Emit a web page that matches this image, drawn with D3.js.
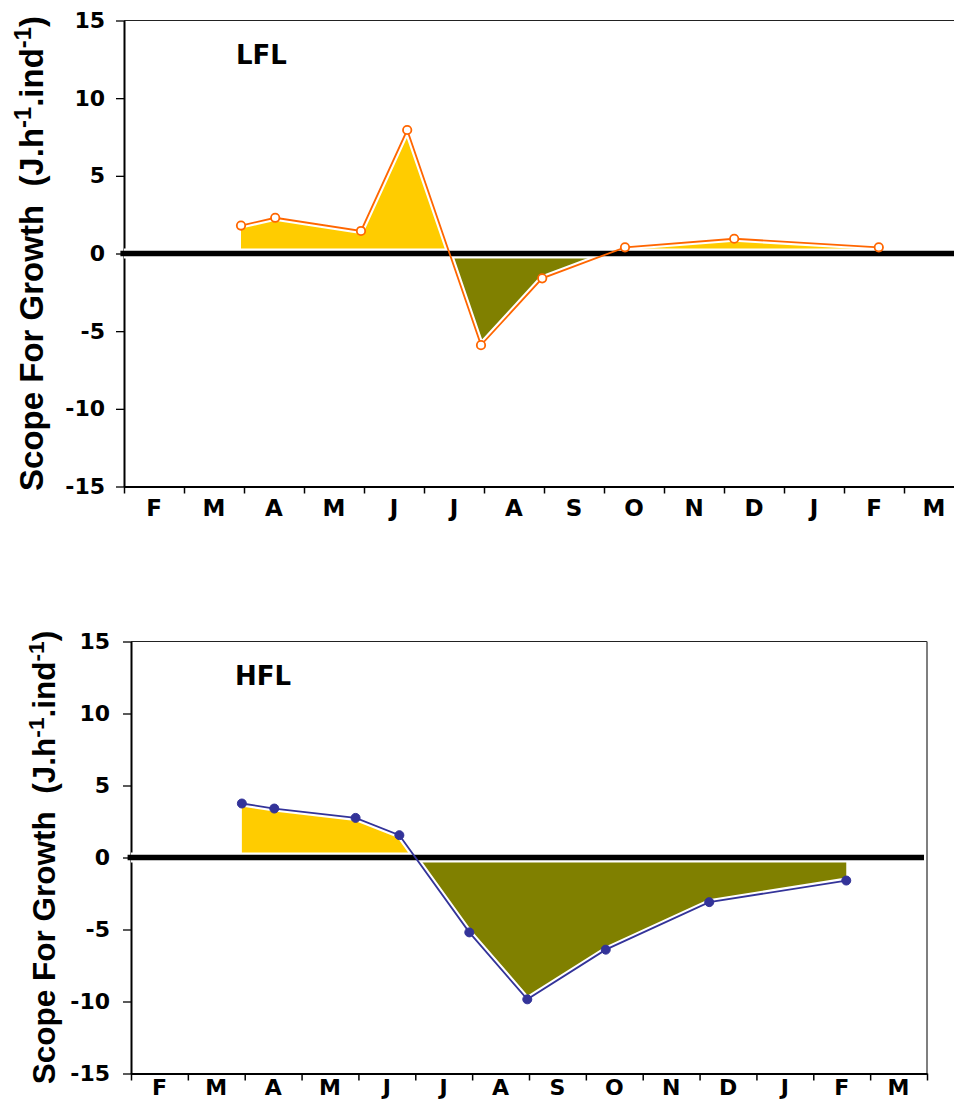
<html>
<head>
<meta charset="utf-8">
<script src="https://d3js.org/d3.v7.min.js"></script>
<style>
body { margin: 0; background: #fff; }
text { font-family: 'DejaVu Sans', Verdana, sans-serif; font-weight: bold; fill: #000; }
.title { font-family: 'Liberation Sans', Arial, sans-serif; white-space: pre; }
</style>
</head>
<body>
<svg id="chart" width="954" height="1102"></svg>
<script>
// month labels on the x axis, one per interval (Feb .. Mar next year)
var months = ["F", "M", "A", "M", "J", "J", "A", "S", "O", "N", "D", "J", "F", "M"];
// sampling dates as a position on the month axis (0 = start of Feb)
var dates = [1.95, 2.52, 3.95, 4.72, 5.95, 6.97, 8.35, 10.17, 12.58];
// scope for growth, J.h-1.ind-1
var lfl = [1.8, 2.3, 1.45, 7.95, -5.9, -1.6, 0.4, 0.95, 0.4];
var hfl = [3.75, 3.4, 2.75, 1.55, -5.2, -9.85, -6.4, -3.1, -1.6];
var yTicks = [-15, -10, -5, 0, 5, 10, 15];

var panels = [
  {id: "lfl", name: "LFL", values: lfl, left: 124, right: 964, top: 20.5, bottom: 486.5,
   color: "#FF6600", open: true, labelX: 236, tickPad: 11, monthPad: 13, monthSize: 23, titleX: 43, titleSize: 33},
  {id: "hfl", name: "HFL", values: hfl, left: 131, right: 927, top: 641.5, bottom: 1073.5,
   color: "#333399", open: false, labelX: 235, tickPad: 13, monthPad: 6, monthSize: 22, titleX: 55, titleSize: 31.5}
];

var svg = d3.select("#chart");

panels.forEach(function(p) {
  var x = d3.scaleLinear().domain([0, months.length]).range([p.left, p.right]);
  var xm = d3.scaleBand().domain(d3.range(months.length)).range([p.left, p.right]);
  var y = d3.scaleLinear().domain([-15, 15]).range([p.bottom, p.top]);
  var pts = dates.map(function(t, i) { return {t: t, v: p.values[i]}; });

  var g = svg.append("g");

  // clips for the positive / negative parts of the area
  var defs = svg.append("defs");
  defs.append("clipPath").attr("id", p.id + "-pos")
    .append("rect").attr("x", p.left).attr("y", p.top)
    .attr("width", p.right - p.left).attr("height", y(0) - p.top);
  defs.append("clipPath").attr("id", p.id + "-neg")
    .append("rect").attr("x", p.left).attr("y", y(0))
    .attr("width", p.right - p.left).attr("height", p.bottom - y(0));

  var area = d3.area()
    .x(function(d) { return x(d.t); })
    .y0(y(0))
    .y1(function(d) { return y(d.v); });
  var line = d3.line()
    .x(function(d) { return x(d.t); })
    .y(function(d) { return y(d.v); });

  g.append("path").datum(pts).attr("d", area)
    .attr("fill", "#FFCC00").attr("clip-path", "url(#" + p.id + "-pos)");
  g.append("path").datum(pts).attr("d", area)
    .attr("fill", "#808000").attr("clip-path", "url(#" + p.id + "-neg)");

  // white edge between the line and the fill
  g.append("path").datum(pts).attr("d", line)
    .attr("fill", "none").attr("stroke", "#fff").attr("stroke-width", 6)
    .attr("stroke-linejoin", "round");

  // frame
  g.append("line").attr("x1", p.left).attr("x2", p.right).attr("y1", p.top).attr("y2", p.top)
    .attr("stroke", "#222").attr("stroke-width", 1.2);
  g.append("line").attr("x1", p.right).attr("x2", p.right).attr("y1", p.top).attr("y2", p.bottom)
    .attr("stroke", "#555").attr("stroke-width", 1.5);

  // y axis
  var ya = g.append("g").attr("transform", "translate(" + p.left + ",0)")
    .call(d3.axisLeft(y).tickValues(yTicks).tickSize(8).tickSizeOuter(0).tickPadding(p.tickPad)
      .tickFormat(function(d) { return String(d); }));
  ya.select(".domain").attr("stroke", "#000").attr("stroke-width", 2);
  ya.selectAll(".tick line").attr("stroke", "#000").attr("stroke-width", 1.3);
  ya.selectAll(".tick text").attr("font-size", 22).attr("font-family", null);

  // x axis ticks
  var xa = g.append("g").attr("transform", "translate(0," + p.bottom + ")")
    .call(d3.axisBottom(x).tickValues(d3.range(months.length + 1)).tickSize(7).tickSizeOuter(0).tickFormat(""));
  xa.select(".domain").attr("stroke", "#000").attr("stroke-width", 2);
  xa.selectAll(".tick line").attr("stroke", "#000").attr("stroke-width", 1.5);

  // month labels
  var xl = g.append("g").attr("transform", "translate(0," + p.bottom + ")")
    .call(d3.axisBottom(xm).tickSize(0).tickPadding(p.monthPad).tickFormat(function(i) { return months[i]; }));
  xl.select(".domain").remove();
  xl.selectAll(".tick text").attr("font-size", p.monthSize).attr("font-family", null);

  // zero line
  g.append("line").attr("x1", x(0)).attr("x2", p.right - 3).attr("y1", y(0)).attr("y2", y(0))
    .attr("stroke", "#fff").attr("stroke-width", 10);
  g.append("line").attr("x1", x(-0.06)).attr("x2", p.right - 3).attr("y1", y(0)).attr("y2", y(0))
    .attr("stroke", "#000").attr("stroke-width", 5.5);

  // series line and markers
  g.append("path").datum(pts).attr("d", line)
    .attr("fill", "none").attr("stroke", p.color).attr("stroke-width", 1.8);
  g.selectAll("circle.pt").data(pts).enter().append("circle")
    .attr("class", "pt")
    .attr("cx", function(d) { return x(d.t); })
    .attr("cy", function(d) { return y(d.v); })
    .attr("r", p.open ? 4.2 : 4.5)
    .attr("fill", p.open ? "#fff" : p.color)
    .attr("stroke", p.color).attr("stroke-width", p.open ? 1.8 : 1);

  // panel label
  g.append("text").attr("x", p.labelX).attr("y", p.top + 43)
    .attr("font-size", 26).text(p.name);

  // y axis title
  var t = g.append("text").attr("class", "title")
    .attr("transform", "translate(" + p.titleX + "," + y(0) + ") rotate(-90)")
    .attr("text-anchor", "middle").attr("font-size", p.titleSize);
  t.append("tspan").text("Scope For Growth  (J.h");
  t.append("tspan").attr("font-size", "72%").attr("dy", "-0.5em").text("-1");
  t.append("tspan").attr("dy", "0.36em").text(".ind");
  t.append("tspan").attr("font-size", "72%").attr("dy", "-0.5em").text("-1");
  t.append("tspan").attr("dy", "0.36em").text(")");
});
</script>
</body>
</html>
